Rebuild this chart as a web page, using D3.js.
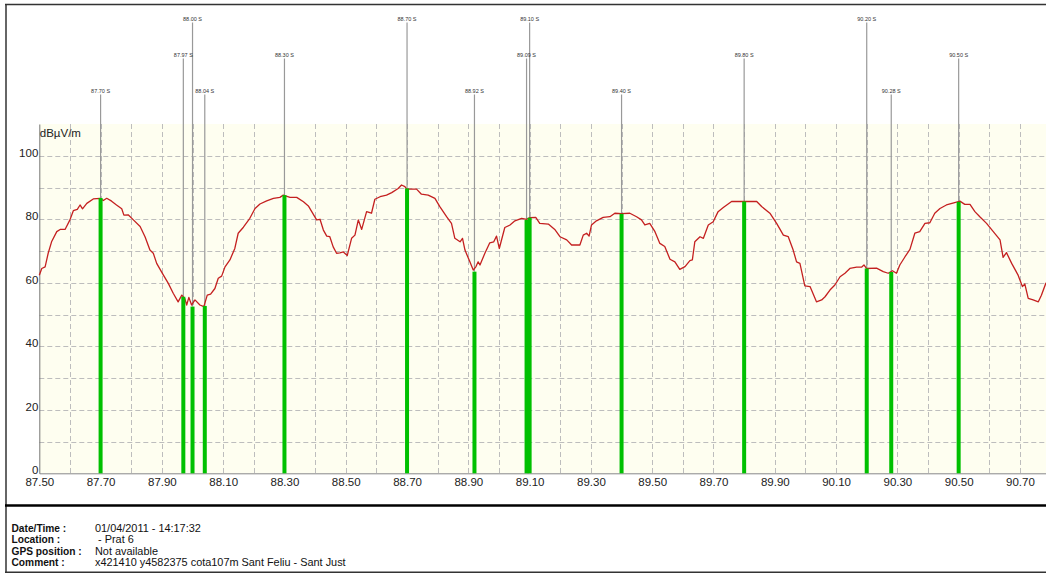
<!DOCTYPE html>
<html><head><meta charset="utf-8">
<script src="https://cdn.jsdelivr.net/npm/d3@7"></script>
<style>
html,body{margin:0;padding:0;background:#fff;}
svg{display:block;font-family:"Liberation Sans",Arial,sans-serif;}
</style></head>
<body><svg id="c" width="1046" height="574"></svg>
<script>
// ---- data ----
const freqs = [87.500,87.508,87.519,87.529,87.540,87.557,87.568,87.584,87.600,87.611,87.624,87.633,87.641,87.655,87.676,87.698,87.709,87.720,87.736,87.752,87.769,87.776,87.790,87.807,87.829,87.845,87.861,87.872,87.883,87.905,87.921,87.937,87.953,87.965,87.975,87.981,87.988,87.997,88.008,88.024,88.037,88.048,88.059,88.073,88.084,88.095,88.106,88.122,88.138,88.149,88.166,88.187,88.204,88.220,88.242,88.264,88.285,88.296,88.318,88.340,88.362,88.378,88.389,88.405,88.416,88.427,88.438,88.448,88.459,88.470,88.481,88.492,88.505,88.519,88.530,88.541,88.552,88.568,88.584,88.595,88.612,88.633,88.650,88.671,88.682,88.693,88.699,88.731,88.747,88.769,88.791,88.807,88.829,88.845,88.856,88.873,88.881,88.889,88.905,88.916,88.925,88.932,88.938,88.954,88.970,88.983,88.992,89.001,89.019,89.036,89.052,89.074,89.090,89.101,89.120,89.133,89.161,89.182,89.199,89.221,89.237,89.264,89.275,89.286,89.294,89.302,89.318,89.340,89.362,89.378,89.400,89.427,89.449,89.465,89.476,89.492,89.509,89.525,89.541,89.558,89.574,89.590,89.607,89.623,89.631,89.639,89.656,89.667,89.683,89.699,89.715,89.732,89.759,89.797,89.841,89.857,89.884,89.906,89.928,89.944,89.960,89.971,89.982,89.998,90.015,90.036,90.053,90.064,90.080,90.096,90.113,90.129,90.145,90.167,90.183,90.191,90.199,90.232,90.254,90.270,90.284,90.297,90.308,90.325,90.341,90.357,90.373,90.390,90.406,90.422,90.439,90.460,90.493,90.504,90.520,90.537,90.553,90.569,90.591,90.613,90.635,90.645,90.656,90.673,90.694,90.708,90.716,90.727,90.743,90.760,90.770,90.785];
const levels = [62.4,64.5,65.0,69.3,72.9,76.1,76.8,76.8,79.8,82.7,83.1,84.5,83.3,85.0,86.4,86.6,85.9,86.6,85.7,84.5,83.3,81.3,81.4,79.8,77.7,74.5,70.3,69.3,66.1,62.4,59.8,56.7,54.0,56.1,55.0,53.0,55.4,53.0,54.6,53.0,52.5,56.1,56.4,58.2,61.4,62.1,65.0,67.2,70.8,75.6,77.5,80.3,83.4,84.8,85.8,86.6,86.9,87.6,86.9,86.9,85.5,84.2,82.4,79.8,80.0,76.6,74.7,74.5,71.3,69.3,69.4,69.7,68.6,74.0,75.0,79.8,76.8,82.4,81.9,86.3,87.1,87.6,88.4,89.7,90.8,90.3,89.5,89.5,87.9,87.6,86.6,84.0,80.8,78.7,74.0,72.9,74.0,70.3,66.6,64.0,65.1,66.6,65.6,69.3,72.6,72.9,74.7,70.8,77.4,78.2,79.5,80.3,80.0,80.5,80.6,78.7,78.5,76.8,74.5,73.5,71.9,71.9,75.0,75.6,74.7,78.2,79.5,80.6,80.8,81.9,81.8,81.9,80.8,79.8,78.2,78.7,76.1,72.4,71.4,67.4,66.6,64.2,65.1,67.0,67.2,72.9,74.5,74.0,78.2,79.2,82.4,83.7,85.6,85.6,85.6,84.0,81.9,78.7,75.0,74.5,70.3,66.6,66.1,59.0,58.8,54.0,54.6,55.6,57.7,59.3,61.9,63.0,64.5,64.9,64.9,65.6,64.5,64.6,63.5,63.0,63.8,63.0,65.6,68.2,70.5,75.6,76.1,78.7,78.9,81.9,83.4,84.5,85.4,85.7,84.7,84.7,82.4,80.8,78.7,76.1,73.5,68.0,69.5,66.1,62.4,58.8,59.6,55.1,54.6,54.0,56.1,60.0];

const stationFreqs  = [87.70,87.97,88.00,88.04,88.30,88.70,88.92,89.09,89.10,89.40,89.80,90.20,90.28,90.50];
const stationLevels = [86.7,55.6,52.5,52.7,87.6,89.7,63.5,79.8,80.5,81.7,85.6,64.5,63.4,85.5];
const stationTiers  = [3,2,1,3,2,1,3,2,1,3,2,1,3,2];
const stationLabels = ["87.70 S","87.97 S","88.00 S","88.04 S","88.30 S","88.70 S","88.92 S","89.09 S","89.10 S","89.40 S","89.80 S","90.20 S","90.28 S","90.50 S"];

const xTickValues = [87.5,87.7,87.9,88.1,88.3,88.5,88.7,88.9,89.1,89.3,89.5,89.7,89.9,90.1,90.3,90.5,90.7];
const xGridValues = [87.6,87.7,87.8,87.9,88.0,88.1,88.2,88.3,88.4,88.5,88.6,88.7,88.8,88.9,89.0,89.1,89.2,89.3,89.4,89.5,89.6,89.7,89.8,89.9,90.0,90.1,90.2,90.3,90.4,90.5,90.6,90.7];
const yTickValues = [0,20,40,60,80,100];
const yGridValues = [10,20,30,40,50,60,70,80,90,100];
const unitLabel = "dBµV/m";

const infoLabels = ["Date/Time :","Location :","GPS position :","Comment :"];
const infoValues = ["01/04/2011 - 14:17:32"," - Prat 6","Not available","x421410 y4582375 cota107m Sant Feliu - Sant Just"];

// ---- drawing ----
const svg = d3.select("#c");
const L = 39.3, R = 1046, T = 124, B = 473.3;
const x = d3.scaleLinear().domain([87.5, 90.785]).range([L, R]);
const y = d3.scaleLinear().domain([0, 110]).range([B, T]);

// frame
svg.append("line").attr("x1",5).attr("x2",1046).attr("y1",4.5).attr("y2",4.5).attr("stroke","#333").attr("stroke-width",1.5);
svg.append("line").attr("x1",6).attr("x2",6).attr("y1",4).attr("y2",573).attr("stroke","#333").attr("stroke-width",1.5);
svg.append("line").attr("x1",5).attr("x2",1046).attr("y1",572.3).attr("y2",572.3).attr("stroke","#333").attr("stroke-width",1.5);
svg.append("line").attr("x1",5).attr("x2",1046).attr("y1",505.5).attr("y2",505.5).attr("stroke","#000").attr("stroke-width",2.5);

// plot bg
svg.append("rect").attr("x",L).attr("y",T).attr("width",R-L).attr("height",B-T).attr("fill","#fefef0");

// grid
const g = svg.append("g").attr("stroke","#bdbdbd").attr("stroke-width",1).attr("stroke-dasharray","5,3");
g.selectAll(".hg").data(yGridValues).join("line").attr("x1",L).attr("x2",R)
  .attr("y1",d=>Math.round(y(d))+0.5).attr("y2",d=>Math.round(y(d))+0.5);
g.selectAll(".vg").data(xGridValues).join("line").attr("y1",T).attr("y2",B)
  .attr("x1",d=>Math.round(x(d))+0.5).attr("x2",d=>Math.round(x(d))+0.5);

// axes
const xAxis = d3.axisBottom(x).tickValues(xTickValues).tickFormat(d3.format(".2f")).tickSize(0).tickPadding(5);
const ax = svg.append("g").attr("transform",`translate(0,${B})`).call(xAxis);
ax.select(".domain").attr("stroke","#888");
ax.selectAll("text").attr("font-size",11.5).attr("fill","#222").attr("font-family","Liberation Sans, Arial, sans-serif");

const yAxis = d3.axisLeft(y).tickValues(yTickValues).tickSize(0).tickPadding(1);
const ay = svg.append("g").attr("transform",`translate(${L},0)`).call(yAxis);
ay.select(".domain").attr("stroke","#777");
ay.selectAll("text").attr("font-size",11.5).attr("fill","#222").attr("dy","0.05em").attr("font-family","Liberation Sans, Arial, sans-serif");

svg.append("text").attr("x",L+0.5).attr("y",T+13).attr("font-size",11.5).attr("fill","#222").text(unitLabel);

// station leader lines + labels
const tierY = {1:19, 2:55, 3:91};
const st = stationFreqs.map((f,i)=>({f, v:stationLevels[i], t:stationTiers[i], lab:stationLabels[i]}));
svg.append("g").selectAll("line").data(st).join("line")
  .attr("x1",d=>x(d.f)).attr("x2",d=>x(d.f))
  .attr("y1",d=>tierY[d.t]+3.5).attr("y2",d=>y(d.v))
  .attr("stroke","#999").attr("stroke-width",1.2);
svg.append("g").selectAll("text").data(st).join("text")
  .attr("x",d=>x(d.f)).attr("y",d=>tierY[d.t]+2)
  .attr("text-anchor","middle").attr("font-size",5.5).attr("fill","#333").text(d=>d.lab);

// curve
const pts = freqs.map((f,i)=>[f,levels[i]]);
svg.append("path").datum(pts)
  .attr("d", d3.line().x(d=>x(d[0])).y(d=>y(d[1])))
  .attr("fill","none").attr("stroke","#c42020").attr("stroke-width",1.3).attr("stroke-linejoin","round");

// green bars
svg.append("g").selectAll("rect").data(st).join("rect")
  .attr("x",d=>x(d.f)-2).attr("width",4)
  .attr("y",d=>y(d.v)).attr("height",d=>B-y(d.v))
  .attr("fill","#00c000");

// info block
const info = svg.append("g").attr("fill","#111");
info.selectAll(".lab").data(infoLabels).join("text")
  .attr("x",11.5).attr("y",(d,i)=>532+i*11.3).attr("font-size",10.2).attr("font-weight","bold").text(d=>d);
info.selectAll(".val").data(infoValues).join("text")
  .attr("x",95).attr("y",(d,i)=>532+i*11.3).attr("font-size",10.9).attr("xml:space","preserve").style("white-space","pre").text(d=>d);
</script></body></html>
